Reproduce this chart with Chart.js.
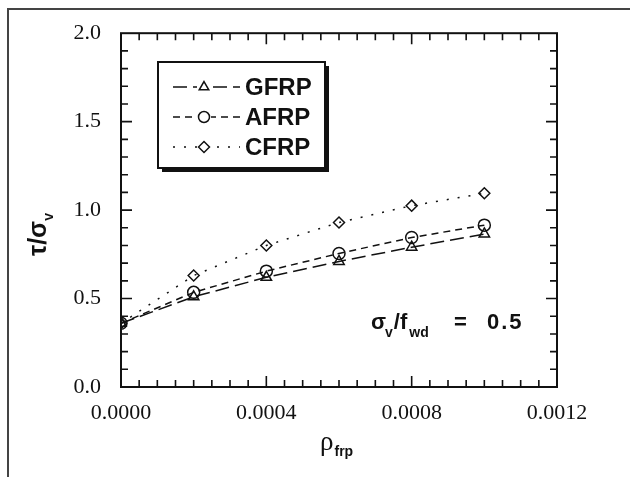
<!DOCTYPE html>
<html>
<head>
<meta charset="utf-8">
<script src="https://cdn.jsdelivr.net/npm/chart.js@4"></script>
<style>
  body { margin: 0; background: #fff; }
  #wrap { position: relative; width: 630px; height: 477px; overflow: hidden; }
  #frame { position: absolute; left: 7px; top: 8px; width: 700px; height: 600px;
           border-left: 2px solid #444; border-top: 2px solid #444; }
</style>
</head>
<body>
<div id="wrap">
  <div id="frame"></div>
  <canvas id="shearChart" width="630" height="477" style="position:absolute;left:0;top:0"></canvas>
</div>
<script>
const ctx = document.getElementById('shearChart').getContext('2d');

// reinforcement ratio rho_frp
const rhoValues = [0, 0.0002, 0.0004, 0.0006, 0.0008, 0.0010];
// tau / sigma_v
const gfrpValues = [0.36, 0.51, 0.62, 0.71, 0.79, 0.865];
const afrpValues = [0.36, 0.535, 0.655, 0.755, 0.845, 0.915];
const cfrpValues = [0.36, 0.63, 0.80, 0.93, 1.025, 1.095];
const seriesNames = ['GFRP', 'AFRP', 'CFRP'];

const xTickLabels = ['0.0000', '0.0004', '0.0008', '0.0012'];
const yTickLabels = ['0.0', '0.5', '1.0', '1.5', '2.0'];

const toPoints = (vals) => vals.map((v, i) => ({ x: rhoValues[i], y: v }));

const serif = "'Liberation Serif', 'Times New Roman', serif";
const sans = "'Liberation Sans', Arial, sans-serif";

function makeSet(label, vals, style, dash) {
    return {
        label: label,
        data: toPoints(vals),
        borderColor: '#111',
        backgroundColor: '#fff',
        borderWidth: 1.5,
        borderDash: dash,
        pointStyle: style,
        pointRadius: style === 'rectRot' ? 5.5 : 6,
        pointBorderWidth: 1.5,
        pointBorderColor: '#111',
        pointBackgroundColor: 'rgba(255,255,255,0)',
        tension: 0,
        fill: false
    };
}

const datasets = [
    makeSet(seriesNames[0], gfrpValues, 'triangle', [14, 6]),
    makeSet(seriesNames[1], afrpValues, 'circle', [7, 5]),
    makeSet(seriesNames[2], cfrpValues, 'rectRot', [2, 9]),
];

// draws text pieces one after another, returns end x
function runText(c, x, y, parts) {
    parts.forEach((p) => {
        c.font = p.font;
        c.fillText(p.t, x + (p.dx || 0), y + (p.dy || 0));
        x += c.measureText(p.t).width + (p.dx || 0);
    });
    return x;
}

// frame, inward ticks, legend box, titles and annotation
const decorations = {
    id: 'decorations',
    afterDraw(chart) {
        const c = chart.ctx;
        const a = chart.chartArea;
        const xs = chart.scales.x, ys = chart.scales.y;
        c.save();
        c.strokeStyle = '#111';
        c.lineWidth = 2;
        c.setLineDash([]);
        c.strokeRect(a.left, a.top, a.right - a.left, a.bottom - a.top);

        c.lineWidth = 1.6;
        c.beginPath();
        // y ticks every 0.1, major every 0.5
        for (let i = 1; i < 20; i++) {
            const py = ys.getPixelForValue(i / 10);
            const len = i % 5 === 0 ? 11 : 7;
            c.moveTo(a.left, py); c.lineTo(a.left + len, py);
            c.moveTo(a.right, py); c.lineTo(a.right - len, py);
        }
        // x ticks every 0.00005, major every 0.0004
        for (let i = 1; i < 24; i++) {
            const px = xs.getPixelForValue(i * 0.00005);
            const len = i % 8 === 0 ? 11 : 7;
            c.moveTo(px, a.bottom); c.lineTo(px, a.bottom - len);
            c.moveTo(px, a.top); c.lineTo(px, a.top + len);
        }
        c.stroke();

        // legend box with drop shadow
        const bx = 158, by = 62, bw = 167, bh = 106;
        c.fillStyle = '#111';
        c.fillRect(bx + 4, by + 4, bw, bh);
        c.fillStyle = '#fff';
        c.fillRect(bx, by, bw, bh);
        c.lineWidth = 2;
        c.strokeRect(bx, by, bw, bh);

        chart.data.datasets.forEach((ds, i) => {
            const ry = 87 + i * 30;
            c.lineWidth = 1.5;
            c.setLineDash(ds.borderDash);
            c.beginPath();
            c.moveTo(173, ry); c.lineTo(240, ry);
            c.stroke();
            c.setLineDash([]);
            c.fillStyle = '#fff';
            c.fillRect(197, ry - 7, 14, 14);
            Chart.helpers.drawPoint(c, {
                pointStyle: ds.pointStyle, radius: 5.5, rotation: 0,
                borderWidth: 1.5
            }, 204, ry);
            c.fillStyle = '#111';
            c.font = 'bold 24px ' + sans;
            c.textBaseline = 'middle';
            c.textAlign = 'left';
            c.fillText(ds.label, 245, ry + 1);
        });

        // annotation sigma_v / f_wd = 0.5
        c.fillStyle = '#111';
        c.textBaseline = 'alphabetic';
        const big = 'bold 22px ' + sans, small = 'bold 14px ' + sans;
        runText(c, 371, 329, [
            { t: 'σ', font: big },
            { t: 'v', font: small, dx: -1, dy: 8 },
            { t: '/f', font: big, dx: 1 },
            { t: 'wd', font: small, dx: 2, dy: 8 }
        ]);
        c.font = big;
        c.fillText('=', 454, 329);
        c.letterSpacing = '2px';
        c.fillText('0.5', 487, 329);
        c.letterSpacing = '0px';

        // y axis title
        c.save();
        c.translate(46, 226);
        c.rotate(-Math.PI / 2);
        c.textAlign = 'left';
        runText(c, -30, 0, [
            { t: 'τ/σ', font: 'bold 25px ' + sans },
            { t: 'v', font: 'bold 14px ' + sans, dx: 0, dy: 7 }
        ]);
        c.restore();

        // x axis title
        runText(c, 320, 450, [
            { t: 'ρ', font: '27px ' + serif },
            { t: 'frp', font: 'bold 14px ' + sans, dx: 1, dy: 6 }
        ]);
        c.restore();
    }
};

const config = {
    type: 'line',
    data: { datasets: datasets },
    options: {
        responsive: false,
        animation: false,
        devicePixelRatio: 1,
        layout: { padding: { left: 0, top: 33, right: 73, bottom: 0 } },
        scales: {
            x: {
                type: 'linear',
                min: 0,
                max: 0.0012,
                afterFit: (s) => { s.height = 90; },
                afterBuildTicks: (s) => {
                    s.ticks = xTickLabels.map((t) => ({ value: parseFloat(t) }));
                },
                ticks: {
                    color: '#111',
                    padding: 13,
                    maxRotation: 0,
                    callback: (v) => v.toFixed(4),
                    font: { family: serif, size: 22 }
                },
                grid: { display: false, drawTicks: false },
                border: { display: false }
            },
            y: {
                min: 0,
                max: 2,
                afterFit: (s) => { s.width = 121; },
                afterBuildTicks: (s) => {
                    s.ticks = yTickLabels.map((t) => ({ value: parseFloat(t) }));
                },
                ticks: {
                    color: '#111',
                    padding: 20,
                    callback: (v) => v.toFixed(1),
                    font: { family: serif, size: 22 }
                },
                grid: { display: false, drawTicks: false },
                border: { display: false }
            }
        },
        plugins: {
            legend: { display: false },
            tooltip: { enabled: false },
            title: { display: false }
        }
    },
    plugins: [decorations]
};

const shearChart = new Chart(ctx, config);
</script>
</body>
</html>
